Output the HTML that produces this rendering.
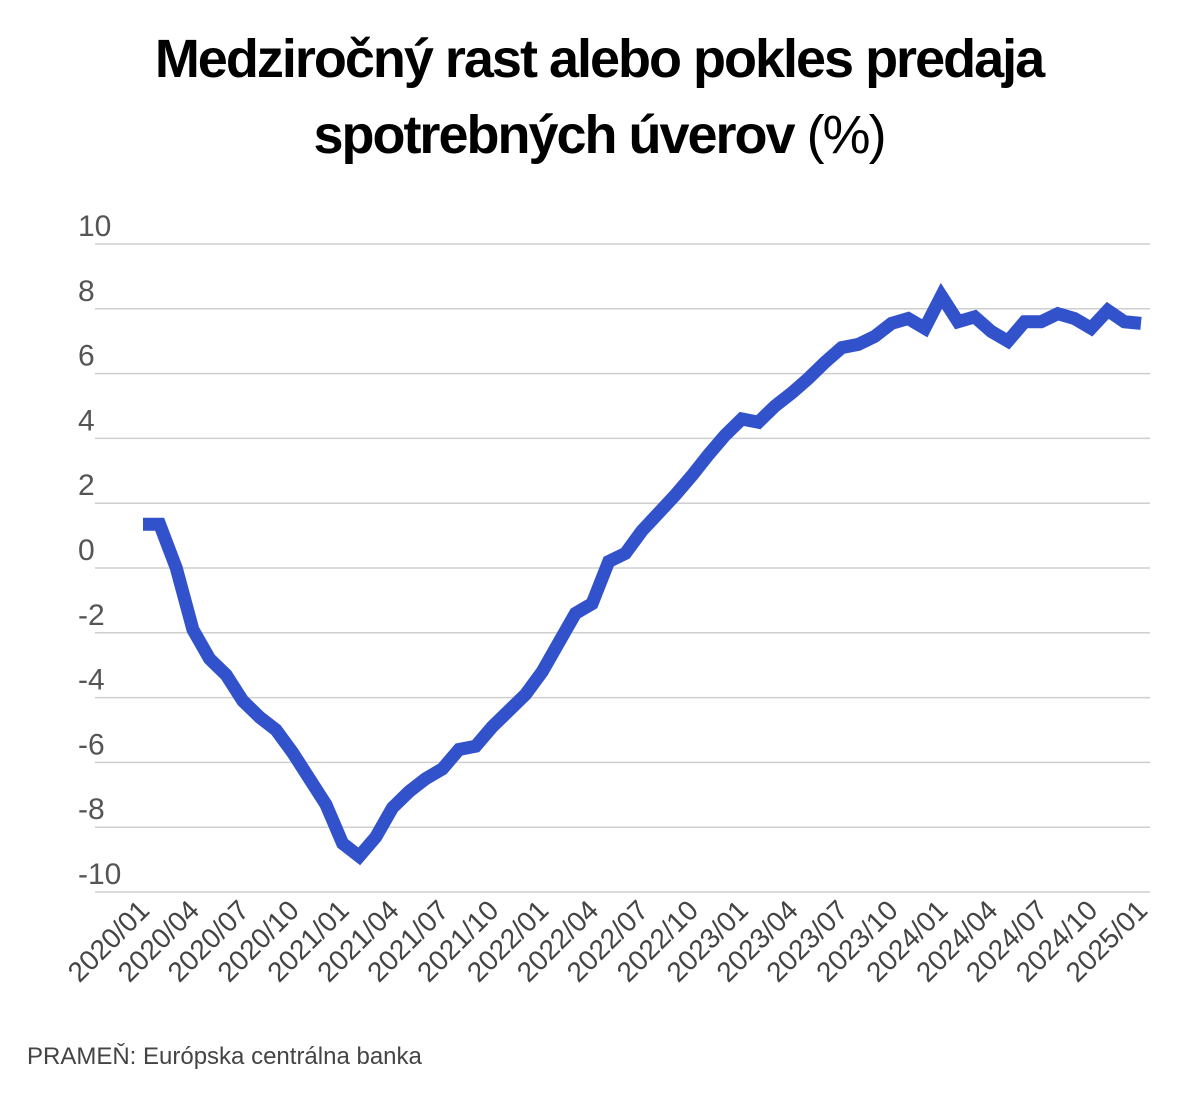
<!DOCTYPE html>
<html><head><meta charset="utf-8"><style>
body{margin:0;background:#fff;width:1198px;height:1094px;overflow:hidden;font-family:"Liberation Sans Narrow","Liberation Sans",sans-serif}
.t{position:absolute;left:0;width:1198px;text-align:center;font-weight:bold;font-size:54px;color:#000;letter-spacing:-2px}
</style></head><body>
<div class="t" style="top:28px">Medziročný rast alebo pokles predaja</div>
<div class="t" style="top:104px">spotrebných úverov <span style="font-weight:normal">(%)</span></div>
<svg id="c" width="1198" height="1094" style="position:absolute;left:0;top:0"></svg>
<div style="position:absolute;left:27px;top:1043px;font-size:24px;color:#444">PRAMEŇ: Európska centrálna banka</div>
<script>
const yTicks=[10,8,6,4,2,0,-2,-4,-6,-8,-10];
const xLabels=["2020/01","2020/04","2020/07","2020/10","2021/01","2021/04","2021/07","2021/10","2022/01","2022/04","2022/07","2022/10","2023/01","2023/04","2023/07","2023/10","2024/01","2024/04","2024/07","2024/10","2025/01"];
const values=[1.35,1.35,0.0,-1.9,-2.8,-3.3,-4.1,-4.6,-5.0,-5.7,-6.5,-7.3,-8.5,-8.9,-8.3,-7.4,-6.9,-6.5,-6.2,-5.6,-5.5,-4.9,-4.4,-3.9,-3.2,-2.3,-1.4,-1.1,0.2,0.45,1.15,1.7,2.25,2.85,3.5,4.1,4.6,4.5,5.0,5.4,5.85,6.35,6.8,6.9,7.15,7.55,7.7,7.4,8.4,7.6,7.75,7.3,7.0,7.6,7.6,7.85,7.7,7.4,7.95,7.6,7.55];
const svg=document.getElementById('c');const NS='http://www.w3.org/2000/svg';
const X0=143,X1=1141,Y0=568,U=32.4;
const x=i=>X0+(X1-X0)*i/(values.length-1);
const y=v=>Y0-v*U;
function mk(t,a){const e=document.createElementNS(NS,t);for(const k in a)e.setAttribute(k,a[k]);svg.appendChild(e);return e;}
yTicks.forEach(v=>{
 const l=mk('line',{x1:95,x2:1150,y1:y(v),y2:y(v),stroke:'#cfcfcf','stroke-width':1.5});
 
 
 const t=mk('text',{x:78,y:y(v)-8,'font-size':30,fill:'#555','font-family':'Liberation Sans Narrow, Liberation Sans, sans-serif'});
 t.textContent=v;
 
 
});
xLabels.forEach((s,k)=>{
 const px=x(k*3)+8,py=912;
 const t=mk('text',{x:px,y:py,'font-size':28,fill:'#444','text-anchor':'end',transform:`rotate(-45 ${px} ${py})`,'font-family':'Liberation Sans Narrow, Liberation Sans, sans-serif'});
 t.textContent=s;
 
 
});
const p=mk('polyline',{points:values.map((v,i)=>x(i)+','+y(v)).join(' '),fill:'none',stroke:'#3252cc','stroke-width':13,'stroke-linejoin':'miter'});


</script>
</body></html>
